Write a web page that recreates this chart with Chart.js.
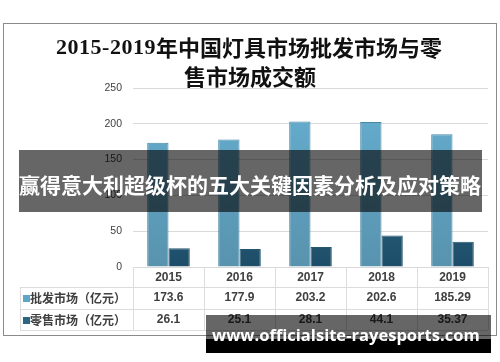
<!DOCTYPE html>
<html>
<head>
<meta charset="utf-8">
<script src="https://cdn.jsdelivr.net/npm/chart.js@4"></script>
<style>
  html, body { margin: 0; padding: 0; background: #fff; }
  canvas { display: block; }
</style>
</head>
<body>
<canvas id="chart" width="500" height="362"></canvas>
<script>
const years = ['2015', '2016', '2017', '2018', '2019'];
const wholesale = [173.6, 177.9, 203.2, 202.6, 185.29];
const retail = [26.1, 25.1, 28.1, 44.1, 35.37];
const seriesNames = ['批发市场（亿元）', '零售市场（亿元）'];
const yMax = 250;
const yStep = 50;
const titleDigits = '2015-2019';
const titleRest = '年中国灯具市场批发市场与零';
const titleLine2 = '售市场成交额';
const bannerText = '赢得意大利超级杯的五大关键因素分析及应对策略';
const watermarkText = 'www.officialsite-rayesports.com';

const wholesaleColor = '#5ea6c6';
const retailColor = '#2d6584';

function gradient(chart, top, bottom) {
  const a = chart.chartArea;
  if (!a) return top;
  const g = chart.ctx.createLinearGradient(0, a.top, 0, a.bottom);
  g.addColorStop(0, top);
  g.addColorStop(1, bottom);
  return g;
}

const extras = {
  id: 'extras',
  beforeDraw(chart) {
    const ctx = chart.ctx;
    ctx.save();
    ctx.fillStyle = '#fff';
    ctx.fillRect(0, 0, chart.width, chart.height);
    ctx.strokeStyle = '#8a8a8a';
    ctx.lineWidth = 1;
    ctx.strokeRect(3.5, 23.5, 493, 312);

    // title, two lines
    ctx.fillStyle = '#111';
    ctx.textBaseline = 'middle';
    ctx.textAlign = 'left';
    ctx.font = 'bold 22px "Liberation Serif", serif';
    ctx.letterSpacing = '0.5px';
    const w1 = ctx.measureText(titleDigits).width;
    ctx.font = 'bold 22px "Noto Sans CJK SC", sans-serif';
    ctx.letterSpacing = '0px';
    const w2 = ctx.measureText(titleRest).width;
    const x0 = 249 - (w1 + w2) / 2;
    ctx.font = 'bold 22px "Liberation Serif", serif';
    ctx.letterSpacing = '0.5px';
    ctx.fillText(titleDigits, x0, 48);
    ctx.font = 'bold 22px "Noto Sans CJK SC", sans-serif';
    ctx.letterSpacing = '0px';
    ctx.fillText(titleRest, x0 + w1, 48);
    ctx.textAlign = 'center';
    ctx.fillText(titleLine2, 250, 77);
    ctx.restore();
  },
  afterDatasetsDraw(chart) {
    const ctx = chart.ctx;
    const a = chart.chartArea;
    const xs = chart.scales.x;
    const step = a.width / years.length;
    const tableLeft = 20;
    const r1 = a.bottom + 20, r2 = a.bottom + 42, r3 = a.bottom + 63;
    ctx.save();
    ctx.strokeStyle = '#dcdcdc';
    ctx.lineWidth = 1;
    ctx.beginPath();
    [r1, r2, r3].forEach(y => {
      ctx.moveTo(tableLeft, y + 0.5);
      ctx.lineTo(a.right, y + 0.5);
    });
    for (let i = 0; i <= years.length; i++) {
      const x = Math.round(a.left + i * step) + 0.5;
      ctx.moveTo(x, a.bottom);
      ctx.lineTo(x, r3);
    }
    ctx.moveTo(tableLeft + 0.5, r1);
    ctx.lineTo(tableLeft + 0.5, r3);
    ctx.stroke();

    ctx.fillStyle = '#404040';
    ctx.textAlign = 'center';
    ctx.textBaseline = 'middle';
    ctx.font = 'bold 12px "Liberation Sans", sans-serif';
    years.forEach((y, i) => {
      const cx = xs.getPixelForValue(i);
      ctx.fillText(y, cx, a.bottom + 10.5);
      ctx.fillText(String(wholesale[i]), cx, r1 + 11);
      ctx.fillText(String(retail[i]), cx, r2 + 11);
    });

    // row labels with colour keys
    ctx.textAlign = 'left';
    ctx.font = 'bold 12px "Noto Sans CJK SC", sans-serif';
    [[seriesNames[0], wholesaleColor, r1], [seriesNames[1], retailColor, r2]].forEach(([name, col, top]) => {
      ctx.fillStyle = col;
      ctx.fillRect(23, top + 8, 7, 7);
      ctx.fillStyle = '#404040';
      ctx.fillText(name, 30, top + 11);
    });
    ctx.restore();
  },
  afterDraw(chart) {
    const ctx = chart.ctx;
    ctx.save();
    // overlay banner
    ctx.fillStyle = 'rgba(0,0,0,0.6)';
    ctx.fillRect(19, 150, 463, 62);
    ctx.fillStyle = '#fff';
    ctx.font = 'bold 21px "Noto Sans CJK SC", sans-serif';
    ctx.textAlign = 'center';
    ctx.textBaseline = 'middle';
    ctx.fillText(bannerText, 250, 185, 462);

    // watermark
    ctx.fillStyle = 'rgba(0,0,0,0.6)';
    ctx.fillRect(206, 315, 285, 24);
    ctx.fillStyle = '#000';
    ctx.fillRect(206, 339, 285, 14);
    ctx.font = 'bold 18px "Open Sans", sans-serif';
    const mw = ctx.measureText(watermarkText).width;
    const size = 18 * 268 / mw;
    ctx.font = 'bold ' + size.toFixed(2) + 'px "Open Sans", sans-serif';
    ctx.fillStyle = '#fff';
    ctx.textAlign = 'left';
    ctx.textBaseline = 'alphabetic';
    ctx.fillText(watermarkText, 212, 341);
    ctx.restore();
  }
};

new Chart(document.getElementById('chart'), {
  type: 'bar',
  data: {
    labels: years,
    datasets: [
      {
        label: seriesNames[0],
        data: wholesale,
        backgroundColor: ctx => gradient(ctx.chart, '#66afd1', '#5893ae'),
        borderColor: '#4886a5',
        borderWidth: 1,
        categoryPercentage: 0.6,
        barPercentage: 1
      },
      {
        label: seriesNames[1],
        data: retail,
        backgroundColor: ctx => gradient(ctx.chart, '#3a7a9c', '#1d4d68'),
        borderColor: '#27586f',
        borderWidth: 1,
        categoryPercentage: 0.6,
        barPercentage: 1
      }
    ]
  },
  options: {
    responsive: false,
    animation: false,
    layout: { padding: { top: 88, left: 0, right: 12, bottom: 95 } },
    plugins: {
      legend: { display: false },
      title: { display: false },
      tooltip: { enabled: false }
    },
    scales: {
      x: { display: false },
      y: {
        min: 0,
        max: yMax,
        ticks: {
          stepSize: yStep,
          padding: 11,
          color: '#404040',
          font: { family: '"Liberation Sans", sans-serif', size: 10.5 }
        },
        grid: { color: '#d9d9d9', drawTicks: false },
        border: { display: false },
        afterFit(scale) { scale.width = 133; }
      }
    }
  },
  plugins: [extras]
});
</script>
</body>
</html>
